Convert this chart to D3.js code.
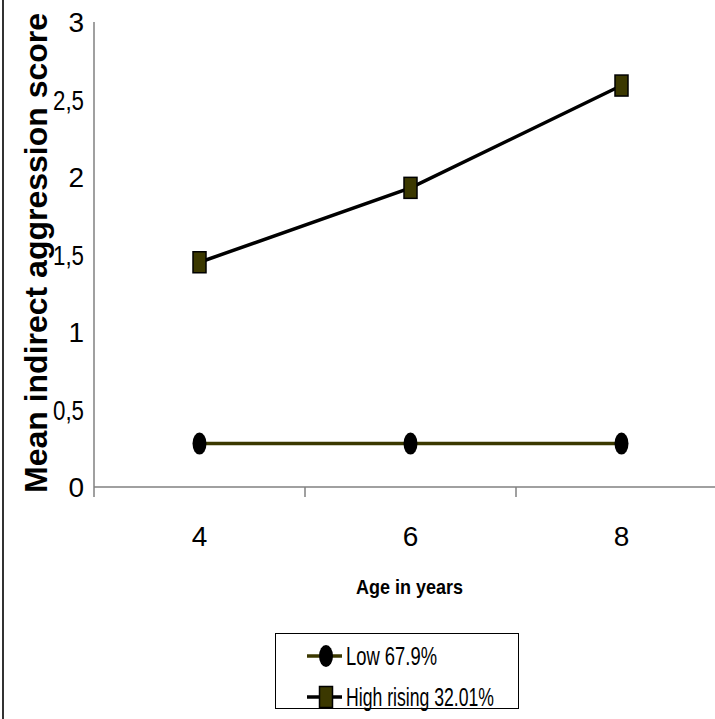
<!DOCTYPE html>
<html><head><meta charset="utf-8">
<script src="https://cdn.jsdelivr.net/npm/d3@7"></script>
<style>body{margin:0;background:#fff}svg{display:block}</style>
</head><body>
<svg id="c" width="715" height="719"></svg>
<script>
const categories = ["4", "6", "8"];
const lowValues = [0.28, 0.28, 0.28];
const highValues = [1.45, 1.93, 2.59];
const yTicks = [0, 0.5, 1, 1.5, 2, 2.5, 3];
const seriesNames = ["Low 67.9%", "High rising 32.01%"];
const xTitle = "Age in years";
const yTitle = "Mean indirect aggression score";

const svg = d3.select("#c");
const font = "Liberation Sans, Arial, sans-serif";

// frame line on left
svg.append("line").attr("x1",3).attr("x2",3).attr("y1",0).attr("y2",719)
  .attr("stroke","#333").attr("stroke-width",2);

const x = d3.scaleBand().domain(categories).range([94, 727]).padding(0);
const y = d3.scaleLinear().domain([0, 3]).range([487, 22]);
const cx = d => x(d) + x.bandwidth()/2;

// axes
svg.append("line").attr("x1",94).attr("x2",727).attr("y1",y(0)).attr("y2",y(0))
  .attr("stroke","#808080").attr("stroke-width",1.5);
svg.append("line").attr("x1",94).attr("x2",94).attr("y1",y(3)).attr("y2",y(0)+10)
  .attr("stroke","#808080").attr("stroke-width",1.5);
categories.forEach(c => {
  const xb = x(c) + x.bandwidth();
  svg.append("line").attr("x1",xb).attr("x2",xb).attr("y1",y(0)).attr("y2",y(0)+10)
    .attr("stroke","#808080").attr("stroke-width",1.5);
});

// y tick labels
const yAxis = svg.append("g").attr("transform","translate(84,0)")
  .call(d3.axisLeft(y).tickValues(yTicks).tickSize(0).tickPadding(0)
    .tickFormat(d => String(d).replace(".", ",")));
yAxis.select(".domain").remove();
yAxis.selectAll("text").attr("font-family",font).attr("font-size",28).attr("fill","#000")
  .attr("dy","0.35em")
  .each(function(d){ if (d % 1 !== 0) d3.select(this).attr("textLength",31).attr("lengthAdjust","spacingAndGlyphs"); });

// x tick labels
const xAxis = svg.append("g").attr("transform",`translate(0,${y(0)})`)
  .call(d3.axisBottom(x).tickSize(0).tickPadding(0));
xAxis.select(".domain").remove();
xAxis.selectAll("text").attr("font-family",font).attr("font-size",28).attr("fill","#000")
  .attr("dy",null).attr("y",59);

// titles
svg.append("text").attr("transform","translate(47,253) rotate(-90)")
  .attr("text-anchor","middle").attr("font-family",font).attr("font-weight","bold")
  .attr("font-size",32).attr("textLength",480).attr("lengthAdjust","spacingAndGlyphs")
  .text(yTitle);
svg.append("text").attr("x",356).attr("y",594)
  .attr("font-family",font).attr("font-weight","bold").attr("font-size",21)
  .attr("textLength",107).attr("lengthAdjust","spacingAndGlyphs")
  .text(xTitle);

// lines
const line = d3.line().x((d,i) => cx(categories[i])).y(d => y(d));
svg.append("path").datum(lowValues).attr("d",line).attr("fill","none")
  .attr("stroke","#3b3800").attr("stroke-width",3.5);
svg.append("path").datum(highValues).attr("d",line).attr("fill","none")
  .attr("stroke","#000").attr("stroke-width",3.5);

// markers
svg.selectAll(".lowm").data(lowValues).enter().append("ellipse")
  .attr("cx",(d,i)=>cx(categories[i])).attr("cy",d=>y(d))
  .attr("rx",7).attr("ry",11).attr("fill","#000");
svg.selectAll(".highm").data(highValues).enter().append("rect")
  .attr("x",(d,i)=>cx(categories[i])-6.5).attr("y",d=>y(d)-10.5)
  .attr("width",13).attr("height",21).attr("fill","#3b3800")
  .attr("stroke","#000").attr("stroke-width",1.5);

// legend
const lg = svg.append("g");
lg.append("rect").attr("x",275.5).attr("y",633.5).attr("width",243).attr("height",75)
  .attr("fill","#fff").attr("stroke","#000").attr("stroke-width",1);
const lgY = [656, 697];
const lgLen = [91, 148];
seriesNames.forEach((name,i) => {
  lg.append("line").attr("x1",307).attr("x2",342).attr("y1",lgY[i]).attr("y2",lgY[i])
    .attr("stroke", i===0 ? "#3b3800" : "#000").attr("stroke-width",3.5);
  if (i===0) {
    lg.append("ellipse").attr("cx",326).attr("cy",lgY[i]).attr("rx",7).attr("ry",11).attr("fill","#000");
  } else {
    lg.append("rect").attr("x",319.5).attr("y",lgY[i]-10.5).attr("width",13).attr("height",21)
      .attr("fill","#3b3800").attr("stroke","#000").attr("stroke-width",1.5);
  }
  lg.append("text").attr("x",346).attr("y",lgY[i]+9)
    .attr("font-family",font).attr("font-size",26)
    .attr("textLength",lgLen[i]).attr("lengthAdjust","spacingAndGlyphs")
    .text(name);
});
</script>
</body></html>
